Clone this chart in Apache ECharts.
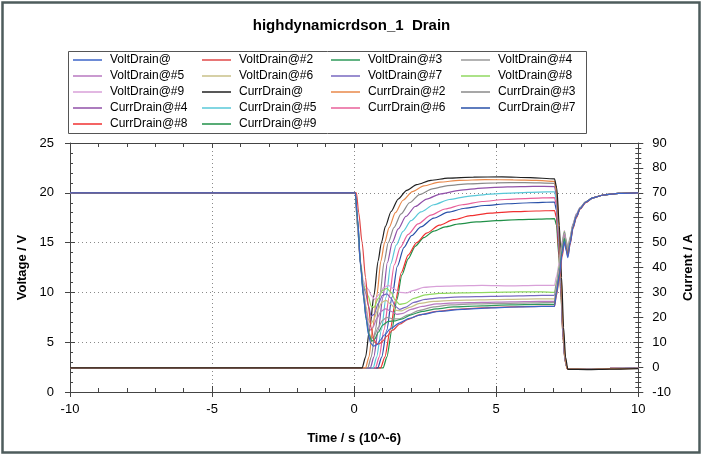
<!DOCTYPE html>
<html><head><meta charset="utf-8">
<script src="https://cdn.jsdelivr.net/npm/echarts@6/dist/echarts.min.js"></script>
<style>html,body{margin:0;padding:0;background:#fff}#c{width:703px;height:464px}</style>
</head><body><div id="c"></div>
<script>
// ---- data (time in µs, voltage in V, current in A) ----
const seriesNames = ['VoltDrain@','VoltDrain@#2','VoltDrain@#3','VoltDrain@#4','VoltDrain@#5','VoltDrain@#6','VoltDrain@#7','VoltDrain@#8','VoltDrain@#9',
  'CurrDrain@','CurrDrain@#2','CurrDrain@#3','CurrDrain@#4','CurrDrain@#5','CurrDrain@#6','CurrDrain@#7','CurrDrain@#8','CurrDrain@#9'];
const xTicks = [-10,-5,0,5,10];
const voltTicks = [0,5,10,15,20,25];
const currTicks = [-10,0,10,20,30,40,50,60,70,80,90];

const volt1 = [[-10,20],[0.04,20],[0.12,17.5],[0.23,12.5],[0.33,9.5],[0.42,7.4],[0.5,5.8],[0.58,4.9],[0.68,4.6],[0.8,4.75],[0.92,5.2],[1.05,5.7],[1.3,6.4],[1.6,6.95],[1.95,7.4],[2.4,7.8],[3.0,8.1],[3.8,8.3],[4.8,8.45],[5.8,8.55],[6.6,8.6],[7.05,8.6],[7.12,9.9],[7.22,11.6],[7.32,13.9],[7.4,15.1],[7.46,14.2],[7.52,13.5],[7.6,14.9],[7.7,16.5],[7.82,17.6],[7.95,18.4],[8.15,19.05],[8.4,19.5],[8.8,19.8],[9.3,19.95],[10,20]];
const volt2 = [[-10,20],[0.08,20],[0.16,18],[0.28,15],[0.4,11.5],[0.5,8.6],[0.6,6.4],[0.7,5.2],[0.8,4.8],[0.9,4.85],[1.0,5.1],[1.15,5.6],[1.35,6.2],[1.6,6.8],[1.9,7.3],[2.3,7.75],[2.9,8.1],[3.6,8.3],[4.5,8.45],[5.5,8.55],[6.5,8.6],[7.05,8.6],[7.12,9.7],[7.22,11.4],[7.32,13.6],[7.4,15.0],[7.46,14.4],[7.52,13.6],[7.6,14.8],[7.7,16.4],[7.82,17.5],[7.95,18.35],[8.15,19.0],[8.4,19.5],[8.8,19.8],[9.3,19.95],[10,20]];
const volt3 = [[-10,20],[0.04,20],[0.12,17.3],[0.23,12.8],[0.33,9.6],[0.43,7.2],[0.52,5.8],[0.62,5.1],[0.72,5.3],[0.85,6.0],[1.0,6.7],[1.2,7.1],[1.45,7.15],[1.7,7.35],[2.0,7.75],[2.4,8.1],[2.9,8.35],[3.5,8.55],[4.5,8.65],[5.5,8.75],[6.5,8.8],[7.05,8.8],[7.12,10.0],[7.22,11.8],[7.32,14.2],[7.4,15.4],[7.46,14.5],[7.52,13.8],[7.6,15.0],[7.7,16.5],[7.82,17.6],[7.95,18.4],[8.15,19.05],[8.4,19.5],[8.8,19.8],[9.3,19.95],[10,20]];
const volt4 = [[-10,20],[0.04,20],[0.12,17.2],[0.22,13],[0.32,9.9],[0.42,7.6],[0.52,6.0],[0.6,5.3],[0.7,5.6],[0.85,6.5],[1.0,7.2],[1.15,7.5],[1.35,7.35],[1.6,7.35],[1.9,7.75],[2.3,8.2],[2.8,8.55],[3.4,8.75],[4.3,8.85],[5.3,8.9],[6.3,8.95],[7.05,9.0],[7.12,10.2],[7.22,12.0],[7.32,14.4],[7.4,15.6],[7.46,14.7],[7.52,13.9],[7.6,15.1],[7.7,16.6],[7.82,17.6],[7.95,18.4],[8.15,19.05],[8.4,19.5],[8.8,19.8],[9.3,19.95],[10,20]];
const volt5 = [[-10,20],[0.04,20],[0.12,17],[0.22,13],[0.32,10.2],[0.42,8.2],[0.5,6.8],[0.57,6.2],[0.66,6.5],[0.8,7.4],[0.95,8.1],[1.1,8.35],[1.3,8.1],[1.5,7.8],[1.72,7.9],[2.0,8.3],[2.4,8.6],[2.9,8.85],[3.6,8.95],[4.5,9.0],[5.5,9.05],[6.5,9.1],[7.05,9.1],[7.12,10.3],[7.22,12.1],[7.32,14.5],[7.4,15.8],[7.46,14.8],[7.52,14.0],[7.6,15.2],[7.7,16.6],[7.82,17.7],[7.95,18.45],[8.15,19.1],[8.4,19.5],[8.8,19.8],[9.3,19.95],[10,20]];
const volt6 = [[-10,20],[0.04,20],[0.12,16.8],[0.22,12.8],[0.32,10.3],[0.42,8.6],[0.5,7.3],[0.58,6.8],[0.68,7.2],[0.82,8.2],[0.98,9.0],[1.12,9.2],[1.3,8.8],[1.48,8.2],[1.68,8.15],[1.95,8.5],[2.3,8.9],[2.8,9.1],[3.5,9.2],[4.4,9.25],[5.4,9.3],[6.4,9.35],[7.05,9.35],[7.12,10.5],[7.22,12.3],[7.32,14.6],[7.4,15.9],[7.46,15.0],[7.52,14.1],[7.6,15.3],[7.7,16.7],[7.82,17.7],[7.95,18.45],[8.15,19.1],[8.4,19.5],[8.8,19.8],[9.3,19.95],[10,20]];
const volt7 = [[-10,20],[0.04,20],[0.12,16.6],[0.22,12.9],[0.32,10.6],[0.4,10.0],[0.5,8.7],[0.6,7.6],[0.7,7.8],[0.85,8.9],[1.0,9.7],[1.15,9.85],[1.3,9.4],[1.45,8.6],[1.6,8.3],[1.8,8.5],[2.1,9.0],[2.5,9.3],[3.0,9.45],[3.8,9.55],[4.8,9.6],[5.8,9.65],[6.6,9.7],[7.05,9.7],[7.12,10.8],[7.22,12.5],[7.32,14.8],[7.4,16.0],[7.46,15.1],[7.52,14.2],[7.6,15.4],[7.7,16.8],[7.82,17.8],[7.95,18.5],[8.15,19.1],[8.4,19.5],[8.8,19.8],[9.3,19.95],[10,20]];
const volt8 = [[-10,20],[0.04,20],[0.12,16.5],[0.22,13],[0.32,10.8],[0.4,10.3],[0.5,9.6],[0.6,8.6],[0.7,8.5],[0.85,9.4],[1.0,10.2],[1.15,10.4],[1.3,10.0],[1.45,9.2],[1.6,8.8],[1.8,8.9],[2.1,9.4],[2.5,9.75],[3.0,9.9],[3.8,9.95],[4.8,10.0],[5.8,10.05],[6.6,10.05],[7.05,10.0],[7.12,11.0],[7.22,12.7],[7.32,15.0],[7.4,16.1],[7.46,15.2],[7.52,14.3],[7.6,15.5],[7.7,16.8],[7.82,17.8],[7.95,18.5],[8.15,19.1],[8.4,19.5],[8.8,19.8],[9.3,19.95],[10,20]];
const volt9 = [[-10,20],[0.04,20],[0.12,16.4],[0.22,13.2],[0.32,11.2],[0.4,10.6],[0.5,10.3],[0.6,9.7],[0.72,9.3],[0.88,9.8],[1.05,10.5],[1.2,10.7],[1.38,10.4],[1.6,10.0],[1.85,9.95],[2.1,10.2],[2.45,10.5],[2.9,10.6],[3.6,10.65],[4.5,10.7],[5.5,10.65],[6.4,10.7],[7.05,10.7],[7.12,11.6],[7.22,13.0],[7.32,15.2],[7.4,16.2],[7.46,15.3],[7.52,14.4],[7.6,15.6],[7.7,16.9],[7.82,17.9],[7.95,18.55],[8.15,19.1],[8.4,19.5],[8.8,19.8],[9.3,19.95],[10,20]];

const curr1 = [[-10,-0.3],[0.28,-0.3],[0.4,4],[0.55,16],[0.7,29],[0.84,42.5],[0.96,50],[1.1,56.5],[1.3,62.5],[1.55,67.5],[1.85,71],[2.2,73.3],[2.7,75],[3.3,75.9],[4.2,76.3],[5.2,76.4],[6.2,76.1],[7.05,75.6],[7.13,72],[7.22,57],[7.3,36],[7.37,16],[7.44,4],[7.52,-0.9],[8.2,-1],[9,-0.8],[10,-0.6]];
const curr2 = [[-10,-0.3],[0.4,-0.3],[0.52,4],[0.66,16],[0.8,29],[0.94,42.5],[1.07,50],[1.23,56],[1.45,62],[1.72,67],[2.05,70.5],[2.45,72.8],[3.0,74.3],[3.7,75],[4.6,75.3],[5.6,75.2],[6.4,75],[7.05,74.6],[7.12,71],[7.21,56],[7.29,35],[7.36,15],[7.43,3.5],[7.5,-0.8],[8.2,-0.9],[9,-0.7],[10,-0.5]];
const curr3 = [[-10,-0.3],[0.48,-0.3],[0.6,4],[0.75,15],[0.9,28],[1.05,42],[1.2,50],[1.4,56],[1.65,61.5],[1.95,66],[2.3,69.3],[2.75,71.6],[3.3,72.9],[4.0,73.6],[5.0,74],[6.0,74.1],[7.05,73.8],[7.12,70],[7.2,56],[7.28,35],[7.35,15],[7.42,3],[7.5,-0.7],[8.2,-0.8],[9,-0.6],[10,-0.5]];
const curr4 = [[-10,-0.3],[0.57,-0.3],[0.69,4],[0.85,15],[1.01,28],[1.17,42],[1.34,50],[1.55,55.5],[1.82,60.5],[2.15,64.5],[2.55,67.5],[3.05,69.6],[3.7,71],[4.5,71.9],[5.4,72.4],[6.3,72.6],[7.05,72.5],[7.12,69],[7.2,55],[7.28,34],[7.35,14],[7.42,3],[7.5,-0.7],[8.2,-0.8],[9,-0.6],[10,-0.5]];
const curr5 = [[-10,-0.3],[0.67,-0.3],[0.79,4],[0.96,15],[1.12,28],[1.29,41.5],[1.48,49],[1.72,54.5],[2.0,58.8],[2.35,62.3],[2.8,65.2],[3.35,67.3],[4.0,68.6],[4.8,69.5],[5.7,70],[6.5,70.3],[7.05,70.4],[7.12,67],[7.2,53],[7.28,33],[7.35,14],[7.42,3],[7.5,-0.6],[8.2,-0.7],[9,-0.6],[10,-0.4]];
const curr6 = [[-10,-0.3],[0.75,-0.3],[0.88,4],[1.05,15],[1.23,28],[1.41,41],[1.62,48],[1.9,53.3],[2.25,57.5],[2.7,61],[3.2,63.5],[3.8,65.2],[4.5,66.5],[5.3,67.3],[6.2,67.8],[7.05,68.1],[7.12,65],[7.2,51],[7.28,32],[7.35,13],[7.42,3],[7.5,-0.6],[8.2,-0.7],[9,-0.5],[10,-0.4]];
const curr7 = [[-10,-0.3],[0.83,-0.3],[0.97,4],[1.15,15],[1.33,28],[1.52,40.5],[1.75,48],[2.02,52.8],[2.35,56.3],[2.8,59.8],[3.3,62.2],[3.9,63.8],[4.6,64.9],[5.4,65.6],[6.2,66],[7.05,66.3],[7.12,63],[7.2,50],[7.28,31],[7.35,13],[7.42,3],[7.5,-0.6],[8.2,-0.7],[9,-0.5],[10,-0.4]];
const curr8 = [[-10,-0.3],[0.93,-0.3],[1.08,4],[1.27,15],[1.46,27],[1.66,38],[1.9,45],[2.2,50],[2.55,53.8],[3.0,57],[3.5,59.2],[4.1,60.8],[4.8,61.8],[5.6,62.4],[6.4,62.7],[7.05,62.9],[7.12,60],[7.2,47],[7.28,29],[7.35,12],[7.42,2.5],[7.5,-0.6],[8.2,-0.7],[9,-0.5],[10,-0.4]];
const curr9 = [[-10,-0.3],[1.02,-0.3],[1.15,4],[1.33,15],[1.5,27],[1.68,37],[1.9,43.5],[2.15,48.5],[2.45,52],[2.8,54.6],[3.2,56.3],[3.7,57.5],[4.3,58.3],[5.0,58.8],[5.8,59.2],[6.5,59.4],[7.05,59.6],[7.12,57],[7.2,45],[7.28,28],[7.35,12],[7.42,2.5],[7.5,-0.6],[8.2,-0.7],[9,-0.5],[10,-0.4]];

// ---- styles ----
const colors = ['#3c64c8','#e04848','#2e9a5a','#9a9a9a','#b878c0','#c8c088','#7868c0','#90d860','#d8a0d8',
  '#202020','#e8884a','#8a8a8a','#9050a8','#58c8d8','#e8609a','#2850a8','#f03030','#209048'];
const allData = [volt1,volt2,volt3,volt4,volt5,volt6,volt7,volt8,volt9,curr1,curr2,curr3,curr4,curr5,curr6,curr7,curr8,curr9];
// drawing order: currents (last to first), then voltages (last to first) so VoltDrain@ ends on top
const drawOrder = [17,16,15,14,13,12,11,10,9,8,7,6,5,4,3,2,1,0];

const FONT = 'Liberation Sans, Arial, sans-serif';
const legendCols = [
  [0,4,8,12,16],[1,5,9,13,17],[2,6,10,14],[3,7,11,15]
];
const legendLeft = [73,202,331,461];
const legends = legendCols.map((col,i)=>({
  orient:'vertical', left: legendLeft[i], top: 53, padding:0,
  itemGap: 2, itemWidth: 29, itemHeight: 1.5, icon:'rect',
  textStyle:{fontFamily:FONT,fontSize:12,color:'#000',lineHeight:14,padding:[0,0,0,3]},
  data: col.map(k=>seriesNames[k]), selectedMode:false
}));

const dotted = {show:true,lineStyle:{color:'#8a8a8a',type:[1,3],width:1}};
const axisCol = '#444';
const chart = echarts.init(document.getElementById('c'),null,{renderer:'canvas'});
chart.setOption({
  animation:false,
  backgroundColor:'#fff',
  title:{text:'highdynamicrdson_1  Drain',left:'center',top:13,
    textStyle:{fontFamily:FONT,fontSize:15,fontWeight:'bold',color:'#000'}},
  legend: legends,
  graphic:[
    {type:'rect',shape:{x:2.5,y:2.5,width:697,height:450},style:{fill:null,stroke:'#4e5c5c',lineWidth:2.5},silent:true,z:-1},
    {type:'rect',shape:{x:68.5,y:51.5,width:518,height:82},style:{fill:null,stroke:'#555',lineWidth:1},silent:true}
  ],
  grid:{left:70,right:63,top:143,bottom:72},
  xAxis:[
    {type:'value',min:xTicks[0],max:xTicks[xTicks.length-1],interval:5,position:'bottom',
     axisLine:{show:true,onZero:false,lineStyle:{color:axisCol}},
     axisTick:{show:true,length:5,lineStyle:{color:axisCol}},
     axisLabel:{fontFamily:FONT,fontSize:13,color:'#000',margin:11},
     splitLine:dotted,
     name:'Time / s (10^-6)',nameLocation:'middle',nameGap:40,
     nameTextStyle:{fontFamily:FONT,fontSize:13,fontWeight:'bold',color:'#000'}},
    {type:'value',min:-10,max:10,interval:5,position:'bottom',
     axisLine:{show:false,onZero:false},axisLabel:{show:false},splitLine:{show:false},
     axisTick:{show:true,inside:true,length:6,lineStyle:{color:axisCol}},
     minorTick:{show:true,splitNumber:5,length:4,lineStyle:{color:axisCol}}},
    {type:'value',min:-10,max:10,interval:5,position:'top',
     axisLine:{show:true,onZero:false,lineStyle:{color:axisCol}},axisLabel:{show:false},splitLine:{show:false},
     axisTick:{show:true,inside:true,length:5,lineStyle:{color:axisCol}},
     minorTick:{show:true,splitNumber:5,length:4,lineStyle:{color:axisCol}}}
  ],
  yAxis:[
    {type:'value',min:voltTicks[0],max:voltTicks[voltTicks.length-1],interval:5,position:'left',
     axisLine:{show:true,onZero:false,lineStyle:{color:axisCol}},
     axisTick:{show:true,length:5,lineStyle:{color:axisCol}},
     axisLabel:{fontFamily:FONT,fontSize:13,color:'#000',margin:16},
     splitLine:dotted,
     name:'Voltage / V',nameLocation:'middle',nameGap:37,nameRotate:90,
     nameTextStyle:{fontFamily:FONT,fontSize:13,fontWeight:'bold',color:'#000'}},
    {type:'value',min:currTicks[0],max:currTicks[currTicks.length-1],interval:10,position:'right',
     axisLine:{show:true,onZero:false,lineStyle:{color:axisCol}},
     axisTick:{show:true,length:5,lineStyle:{color:axisCol}},
     minorTick:{show:true,splitNumber:5,length:3,lineStyle:{color:axisCol}},
     axisLabel:{fontFamily:FONT,fontSize:13,color:'#000',margin:14},
     splitLine:{show:false},
     name:'Current / A',nameLocation:'middle',nameGap:41,nameRotate:90,
     nameTextStyle:{fontFamily:FONT,fontSize:13,fontWeight:'bold',color:'#000'}},
    {type:'value',min:0,max:25,interval:5,position:'left',
     axisLine:{show:false,onZero:false},axisLabel:{show:false},splitLine:{show:false},
     axisTick:{show:true,inside:true,length:5,lineStyle:{color:axisCol}},
     minorTick:{show:true,splitNumber:5,length:3,lineStyle:{color:axisCol}}},
    {type:'value',min:-10,max:90,interval:10,position:'right',
     axisLine:{show:false,onZero:false},axisLabel:{show:false},splitLine:{show:false},
     axisTick:{show:true,inside:true,length:5,lineStyle:{color:axisCol}},
     minorTick:{show:true,splitNumber:5,length:3,lineStyle:{color:axisCol}}}
  ],
  series: drawOrder.map(i=>({
    name: seriesNames[i], type:'line', data:allData[i],
    xAxisIndex:0, yAxisIndex: i<9?0:1,
    showSymbol:false, symbol:'none', smooth:0.25, smoothMonotone:'x',
    lineStyle:{width:1.2,color:colors[i]}, itemStyle:{color:colors[i]}
  }))
});
</script></body></html>
